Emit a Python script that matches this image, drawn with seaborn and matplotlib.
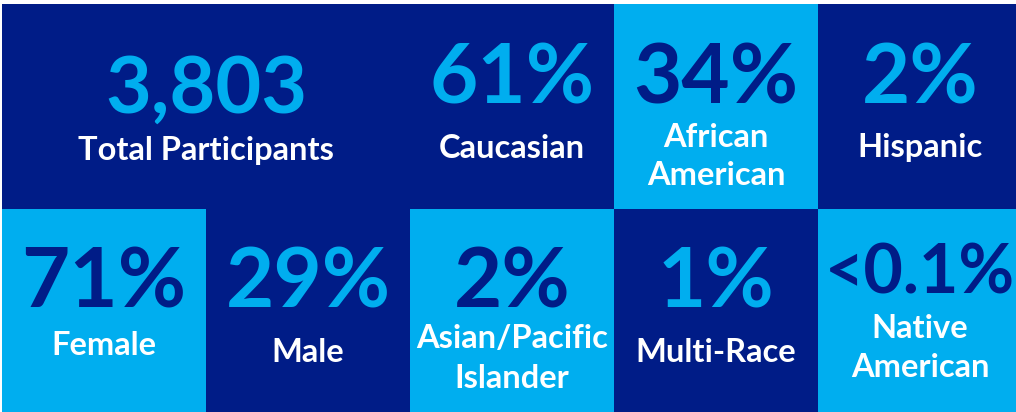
import numpy as np
import seaborn as sns
import matplotlib.pyplot as plt
from matplotlib.colors import ListedColormap

# tile contents, read left to right, top row then bottom row
values = ["3,803", "61%", "34%", "2%", "71%", "29%", "2%", "1%", "<0.1%"]
labels = ["Total Participants", "Caucasian", "African\nAmerican", "Hispanic",
          "Female", "Male", "Asian/Pacific\nIslander", "Multi-Race", "Native\nAmerican"]
fills = [0, 0, 1, 0, 1, 0, 1, 0, 1]  # 0 = navy tile, 1 = light blue tile

# layout: grid row, first column and column span of each tile
rows = [0, 0, 0, 0, 1, 1, 1, 1, 1]
cols = [0, 2, 3, 4, 0, 1, 2, 3, 4]
spans = [2, 1, 1, 1, 1, 1, 1, 1, 1]

NAVY = "#001C87"
LIGHT = "#00AEEF"
CELL_H = 205.0  # px per grid row

# baselines in px from the top of each tile: number, then label lines
num_base = [109, 99, 99, 99, 98, 99, 98, 99, 84]
lab_base = [[156], [154], [143, 181], [153], [146], [153], [139, 179], [153], [129, 168]]
num_size = [57, 60, 60, 60, 60, 60, 60, 60, 49]
LAB_SIZE = 23.5

sns.set_theme(style="white")
plt.rcParams["font.family"] = ["Lato", "DejaVu Sans"]

grid = np.zeros((2, 5), dtype=int)
for r, c, s, f in zip(rows, cols, spans, fills):
    grid[r, c:c + s] = f

fig = plt.figure(figsize=(10.16, 4.12), dpi=100, facecolor="white")
ax = fig.add_axes([2 / 1016, -2 / 412, 1020 / 1016, 410 / 412])
sns.heatmap(grid, cmap=ListedColormap([NAVY, LIGHT]), vmin=0, vmax=1,
            cbar=False, xticklabels=False, yticklabels=False, ax=ax)
ax.set_axis_off()

for i in range(len(values)):
    x = cols[i] + spans[i] / 2
    num_color = LIGHT if fills[i] == 0 else NAVY
    ax.text(x, rows[i] + num_base[i] / CELL_H, values[i], color=num_color,
            fontsize=num_size[i], fontweight="bold", ha="center", va="baseline")
    for line, b in zip(labels[i].split("\n"), lab_base[i]):
        ax.text(x, rows[i] + b / CELL_H, line, color="white",
                fontsize=LAB_SIZE, fontweight="bold", ha="center", va="baseline")

fig.savefig("out.png", dpi=100, facecolor="white")
plt.close(fig)
